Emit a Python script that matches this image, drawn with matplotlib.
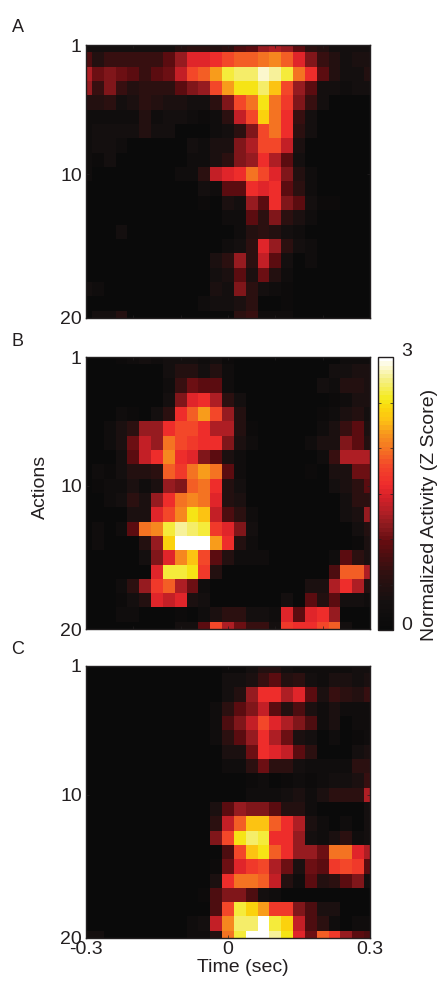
import numpy as np
import matplotlib
matplotlib.use('Agg')
import matplotlib.pyplot as plt
from matplotlib.colors import LinearSegmentedColormap

plt.rcParams['font.family'] = ['Liberation Sans', 'DejaVu Sans']

W, H = 439, 981

# z score x 10, rows are actions 1-20, columns are time bins -0.3..0.3
panel_a = [
    [3,3,3,3,3,3,3,3,5,6,6,5,6,8,9,12,13,12,9,6,5,3,3,3,3],
    [8,5,7,7,7,7,7,9,12,15,15,16,18,19,19,20,21,19,15,11,7,5,3,4,4],
    [13,10,11,10,9,7,9,10,14,18,19,22,26,27,27,29,28,26,20,16,9,5,3,3,5],
    [12,7,11,7,5,6,6,6,9,11,12,18,22,25,25,27,23,18,12,9,3,3,2,3,3],
    [5,5,6,3,4,6,5,4,4,3,3,6,11,18,20,25,20,17,11,7,3,0,0,0,0],
    [2,2,2,2,2,5,2,3,3,2,1,2,6,14,18,24,20,16,7,3,0,0,0,0,0],
    [2,3,3,3,3,5,3,3,0,0,0,2,3,6,11,18,20,16,6,3,0,0,0,0,0],
    [2,3,3,2,0,0,0,0,0,3,2,4,4,11,13,18,18,14,4,0,0,0,0,0,0],
    [2,1,3,0,0,0,0,0,0,2,2,4,6,11,12,16,13,9,3,0,0,0,0,0,0],
    [2,0,0,0,0,0,0,0,2,2,6,14,15,16,20,18,15,11,5,2,0,0,0,0,0],
    [0,0,0,0,0,0,0,0,0,0,3,2,9,9,16,15,16,9,6,2,0,0,0,0,0],
    [0,0,0,0,0,0,0,0,0,0,1,0,4,3,12,9,16,11,9,3,1,1,0,0,0],
    [0,0,0,0,0,0,0,0,0,0,0,0,2,2,9,6,11,6,4,2,0,0,0,0,0],
    [0,0,0,3,0,0,0,0,0,0,0,0,0,2,5,6,5,3,2,0,0,0,0,0,0],
    [0,0,0,0,0,0,0,0,0,0,0,0,2,3,6,15,12,6,3,2,0,0,0,0,0],
    [0,0,0,0,0,0,0,0,0,0,0,4,6,12,6,14,9,3,0,2,0,0,0,0,0],
    [0,0,0,0,0,0,0,0,0,0,0,3,4,9,4,10,5,2,0,0,0,0,0,0,0],
    [3,2,0,0,0,0,0,0,0,0,0,4,3,11,6,3,2,1,0,0,0,0,0,0,0],
    [0,0,0,0,0,0,0,0,0,0,2,3,3,4,6,0,0,1,0,0,0,0,0,0,0],
    [0,3,3,5,0,0,0,0,0,0,0,0,0,6,7,2,2,2,0,0,0,0,0,0,0],
]

panel_b = [
    [0,0,0,1,2,3,2,3,3,3,2,3,1,0,0,0,0,0,0,0,0,0,2,2,2],
    [0,0,0,0,0,0,0,3,5,5,3,5,2,0,0,0,0,0,0,0,0,3,3,4,4],
    [0,0,0,0,0,0,0,2,7,10,9,9,2,0,0,0,0,0,0,0,3,2,5,5,4],
    [0,0,0,0,0,0,0,3,11,15,16,13,6,3,0,0,0,0,0,0,0,1,2,4,4],
    [0,0,0,2,1,0,3,6,16,19,22,18,12,5,0,0,0,0,0,0,1,2,4,5,3],
    [0,0,2,4,6,12,12,16,18,18,16,13,13,5,1,0,0,0,0,0,2,4,7,9,4],
    [0,0,2,4,10,14,12,20,18,17,16,16,11,4,2,0,0,0,0,2,4,4,11,9,5],
    [0,0,0,3,9,14,16,21,16,15,11,9,4,2,0,0,0,0,0,0,2,7,13,13,13],
    [0,2,1,3,5,5,6,19,17,20,22,20,9,2,0,0,0,0,0,1,0,4,4,10,10],
    [0,1,2,2,4,2,4,12,11,19,20,16,5,3,0,0,0,0,0,0,0,3,4,6,9],
    [0,0,2,3,6,4,12,16,20,21,20,15,5,4,0,0,0,0,0,0,0,0,3,6,6],
    [0,0,0,0,4,4,15,18,21,25,23,14,8,6,2,0,0,0,0,0,0,0,3,4,12],
    [0,2,0,2,9,20,21,26,28,27,26,17,15,11,3,0,0,0,0,0,0,0,0,3,5],
    [0,2,0,0,0,5,12,24,30,30,30,22,16,5,2,0,0,0,0,0,0,0,0,1,4],
    [0,0,0,0,0,3,11,15,21,23,18,9,5,2,2,2,0,0,0,0,0,2,9,6,4],
    [0,0,0,0,0,0,15,26,26,25,17,5,0,0,0,0,0,0,0,0,0,8,19,19,13],
    [0,0,0,2,6,12,17,19,13,10,2,0,0,0,0,0,0,0,0,4,4,13,16,13,5],
    [0,0,0,1,3,5,15,14,15,4,3,0,0,0,0,0,0,3,0,9,5,9,3,3,2],
    [0,0,0,2,2,0,0,0,1,0,2,4,6,6,3,3,2,15,9,15,16,12,0,0,0],
    [0,0,0,0,0,0,0,0,3,3,9,18,13,10,7,7,3,17,16,16,18,19,3,0,0],
]

panel_c = [
    [0,0,0,0,0,0,0,0,0,0,0,0,1,1,3,5,5,3,2,2,2,2,2,3,3],
    [0,0,0,0,0,0,0,0,0,0,0,0,3,3,4,7,9,5,6,3,2,4,4,3,4],
    [0,0,0,0,0,0,0,0,0,0,0,0,3,5,12,16,16,13,15,9,4,7,6,5,7],
    [0,0,0,0,0,0,0,0,0,0,0,2,6,9,11,14,9,5,8,4,2,4,2,2,2],
    [0,0,0,0,0,0,0,0,0,0,0,2,8,11,14,18,15,13,11,8,2,4,0,2,2],
    [0,0,0,0,0,0,0,0,0,0,0,2,6,9,12,16,13,10,4,3,0,2,0,1,2],
    [0,0,0,0,0,0,0,0,0,0,0,0,4,4,10,16,15,14,9,6,0,0,0,3,4],
    [0,0,0,0,0,0,0,0,0,0,0,0,2,2,6,10,6,6,3,2,2,2,2,6,6],
    [0,0,0,0,0,0,0,0,0,0,0,0,0,0,1,2,0,1,2,1,2,3,3,4,7],
    [0,0,0,0,0,0,0,0,0,0,0,0,0,0,2,2,2,3,4,2,4,6,6,6,13],
    [0,0,0,0,0,0,0,0,0,0,0,4,9,12,11,11,9,5,5,2,0,0,0,0,3],
    [0,0,0,0,0,0,0,0,0,0,0,6,14,19,23,23,19,16,13,4,2,0,2,0,3],
    [0,0,0,0,0,0,0,0,0,0,0,11,18,25,27,26,16,16,12,3,2,4,6,2,3],
    [0,0,0,0,0,0,0,0,0,0,0,0,8,18,23,25,19,16,12,12,10,20,20,15,13],
    [0,0,0,0,0,0,0,0,0,0,0,1,10,15,17,18,13,10,4,10,9,17,18,17,9],
    [0,0,0,0,0,0,0,0,0,0,0,4,16,20,20,19,14,5,2,9,5,6,9,11,3],
    [0,0,0,0,0,0,0,0,0,0,1,8,11,11,8,3,2,0,0,0,0,0,0,0,0],
    [0,0,0,0,0,0,0,0,0,0,0,8,18,26,24,22,17,17,11,8,4,4,0,0,0],
    [0,0,0,0,0,0,0,0,0,2,3,14,21,27,27,30,26,24,14,8,6,2,0,2,2],
    [3,3,0,0,0,0,0,0,0,2,2,5,20,26,30,30,28,25,15,10,19,17,12,9,8],
]

letters = ['A', 'B', 'C']
row_ticks = [1, 10, 20]
cbar_ticks = [0, 0.5, 1, 1.5, 2, 2.5, 3]

# print-converted "hot" map
cmap = LinearSegmentedColormap.from_list('hot_print', [
    (0.00, '#0a0a0a'), (0.10, '#151010'), (0.20, '#2e1010'), (0.32, '#640c10'),
    (0.38, '#8a1a1e'), (0.43, '#b01f25'), (0.48, '#d02028'), (0.53, '#ee2a2c'),
    (0.60, '#f3452a'), (0.65, '#f46a24'), (0.72, '#f7941e'), (0.77, '#fdc014'),
    (0.82, '#fbd80c'), (0.85, '#f5ea1a'), (0.92, '#f5ef80'), (0.97, '#fcf8d0'),
    (1.00, '#ffffff')], N=64)


def px_axes(fig, x0, y0, x1, y1):
    return fig.add_axes([x0 / W, 1 - y1 / H, (x1 - x0) / W, (y1 - y0) / H])


def draw_panel(ax, values, vmax=3):
    data = np.array(values) / 10
    im = ax.imshow(data, cmap=cmap, vmin=0, vmax=vmax, aspect='auto', interpolation='nearest',
                   extent=(-0.3125, 0.3125, 20.5, 0.5))
    ax.set_xlim(-0.3, 0.3)
    ax.set_ylim(20, 1)
    ax.set_xticks(np.arange(-0.3, 0.31, 0.1))
    ax.set_xticklabels([])
    ax.set_yticks(np.arange(2, 21, 2), minor=False)
    ax.set_yticks(row_ticks)
    ax.set_yticklabels(row_ticks, fontsize=14, color='#231f20')
    ax.tick_params(direction='in', length=2, width=0.5, color='#231f20', top=True, right=True, pad=3)
    for s in ax.spines.values():
        s.set_linewidth(1.0)
        s.set_color('#231f20')
    return im


fig = plt.figure(figsize=(W / 100, H / 100), dpi=100)

boxes = [(86, 45, 370, 318), (86, 357, 370, 629), (86, 666, 370, 938)]
letter_y = [27, 342, 650]
for box, vals, let, ly in zip(boxes, [panel_a, panel_b, panel_c], letters, letter_y):
    ax = px_axes(fig, *box)
    im = draw_panel(ax, vals)
    fig.text(18 / W, 1 - ly / H, let, fontsize=13, ha='center', va='center', color='#231f20')
    if let == 'C':
        ax.set_xticks([-0.3, 0, 0.3], ['-0.3', '0', '0.3'], fontsize=14, color='#231f20')
        ax.tick_params(axis='x', pad=2)

fig.text(243 / W, 1 - 968 / H, 'Time (sec)', fontsize=14, ha='center', va='center', color='#231f20')
fig.text(40 / W, 1 - 487 / H, 'Actions', fontsize=14, rotation=90, ha='center', va='center', color='#231f20')

cax = px_axes(fig, 378, 357, 393, 630)
cb = fig.colorbar(im, cax=cax)
cb.set_ticks(cbar_ticks)
cb.set_ticklabels([])
cax.tick_params(direction='in', length=2, width=0.5, color='#231f20', left=True, right=True)
cb.outline.set_linewidth(1.0)
cb.outline.set_edgecolor('#231f20')
fig.text(407 / W, 1 - 352 / H, '3', fontsize=14, ha='center', va='center', color='#231f20')
fig.text(407 / W, 1 - 625 / H, '0', fontsize=14, ha='center', va='center', color='#231f20')
fig.text(430 / W, 1 - 515 / H, 'Normalized Activity (Z Score)', fontsize=14, rotation=90,
         ha='center', va='center', color='#231f20')

fig.savefig('out.png', dpi=100)
